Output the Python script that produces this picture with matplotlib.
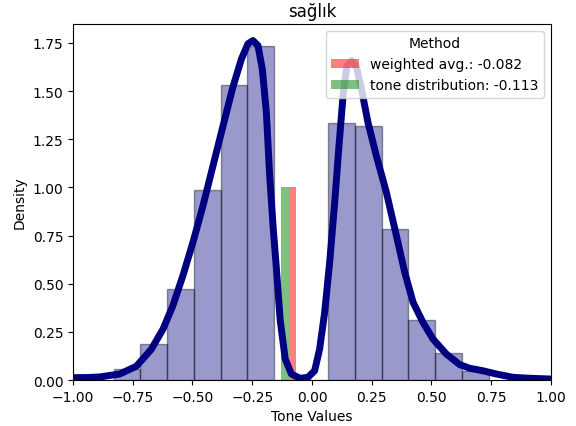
import numpy as np
import matplotlib
matplotlib.use("Agg")
import matplotlib.pyplot as plt

#histogram (density)
bin_edges = [-0.830, -0.718, -0.606, -0.494, -0.382, -0.270, -0.157,
             -0.045, 0.067, 0.179, 0.291, 0.403, 0.515, 0.627, 0.739]
bin_heights = [0.057, 0.186, 0.47, 0.984, 1.53, 1.736, 0.0,
               0.0, 1.334, 1.32, 0.784, 0.31, 0.139, 0.045]

#kde curve points
kde_x = [-1.0, -0.94, -0.888, -0.805, -0.735, -0.672, -0.623, -0.582, -0.540,
         -0.498, -0.456, -0.414, -0.372, -0.331, -0.295, -0.268, -0.247,
         -0.226, -0.208, -0.191, -0.177, -0.163, -0.149, -0.133, -0.112,
         -0.086, -0.051, -0.017, 0.011, 0.032, 0.053, 0.074, 0.095, 0.113,
         0.130, 0.146, 0.165, 0.186, 0.207, 0.234, 0.269, 0.311, 0.353, 0.388,
         0.423, 0.464, 0.506, 0.562, 0.618, 0.660, 0.715, 0.772, 0.841, 0.911,
         1.0]
kde_y = [0.012, 0.013, 0.016, 0.031, 0.071, 0.160, 0.265, 0.386, 0.542,
         0.715, 0.905, 1.113, 1.320, 1.520, 1.667, 1.745, 1.762,
         1.736, 1.615, 1.390, 1.06, 0.80, 0.58, 0.31, 0.109,
         0.031, 0.009, 0.014, 0.048, 0.161, 0.351, 0.611, 0.922, 1.217,
         1.476, 1.632, 1.658, 1.624, 1.511, 1.338, 1.165, 0.975, 0.75, 0.559,
         0.403, 0.300, 0.213, 0.135, 0.080, 0.061, 0.048, 0.031, 0.014, 0.009,
         0.005]

#method summary values
method_labels = ["weighted avg.: -0.082", "tone distribution: -0.113"]
method_values = [-0.082, -0.113]
method_colors = ["red", "green"]

fig = plt.figure(figsize=(5.76, 4.27), dpi=100)
ax = fig.add_axes([0.1267, 0.1077, 0.8299, 0.8338])

edges = np.array(bin_edges)
ax.bar(edges[:-1], bin_heights, width=np.diff(edges), align="edge",
       color="navy", alpha=0.4, edgecolor="black", linewidth=1)

ax.plot(kde_x, kde_y, color="navy", linewidth=5,
        solid_joinstyle="round", solid_capstyle="round")

for val, lab, col in zip(method_values, method_labels, method_colors):
    ax.bar(val, 1.0, width=0.03, color=col, alpha=0.5, label=lab)

ax.set_xlim(-1, 1)
ax.set_ylim(0, 1.848)
ax.set_xlabel("Tone Values")
ax.set_ylabel("Density")
ax.set_title("sağlık")
ax.legend(title="Method", loc="upper right")

fig.savefig("out.png", dpi=100)
